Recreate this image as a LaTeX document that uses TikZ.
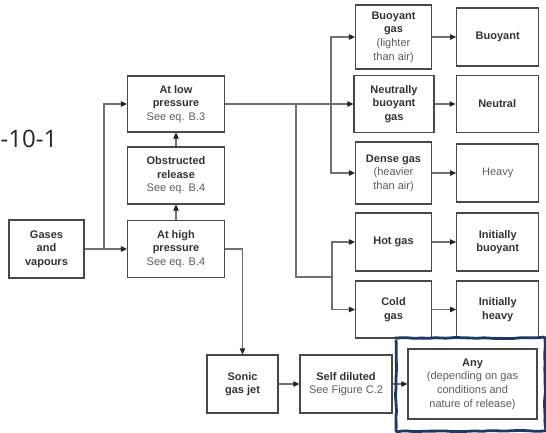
\documentclass[tikz,border=0pt]{standalone}
\usepackage{fontspec}
\setmainfont{Liberation Sans}
\newfontfamily\fignofont{Open Sans}
\usetikzlibrary{positioning, arrows.meta, decorations.pathmorphing}

\definecolor{boxline}{HTML}{484848}
\definecolor{wire}{HTML}{707070}
\definecolor{titletext}{HTML}{333333}
\definecolor{detailtext}{HTML}{5C5C5C}
\definecolor{markblue}{HTML}{1E3866}
\newcommand{\detail}[1]{{\mdseries\color{detailtext}#1}}

\begin{document}
\begin{tikzpicture}[
    x=1pt, y=-1pt,
    box/.style={
        draw=boxline,
        line width=1.2pt,
        inner sep=0pt,
        align=center,
        text=titletext,
        font=\fontsize{11}{13.6}\selectfont\bfseries
    },
    mid/.style={box, minimum width=76pt, minimum height=58pt},
    result/.style={box, minimum width=82pt, minimum height=58pt},
    arrow/.style={-{Triangle[length=6pt, width=5.5pt, color=black!85]}, line width=1.1pt, draw=wire},
    wireline/.style={line width=1.1pt, draw=wire},
    highlight/.style={
        draw=markblue,
        line width=2.8pt,
        rounded corners=2pt,
        decorate,
        decoration={random steps, segment length=6pt, amplitude=0.6pt}
    }
]
\useasboundingbox (0,0) rectangle (546,433);

% figure number at the left edge
\node[anchor=base west, inner sep=0pt, text=black!85,
      font=\fignofont\fontsize{24}{28}\selectfont] (figno) at (0.5,148) {-10-1};

% release conditions
\node[box, minimum width=75pt, minimum height=58pt] (gases) at (46.5,249) {Gases\\and\\vapours};
\node[box, minimum width=97pt, minimum height=57pt] (high) at (176,249) {At high\\pressure\\\detail{See eq. B.4}};
\node[box, minimum width=97pt, minimum height=57pt] (obst) at (176,175.5) {Obstructed\\release\\\detail{See eq. B.4}};
\node[box, minimum width=97pt, minimum height=56pt] (low) at (176,104) {At low\\pressure\\\detail{See eq. B.3}};
\node[box, minimum width=71pt, minimum height=58pt] (sonic) at (242.5,384) {Sonic\\gas jet};
\node[box, minimum width=92pt, minimum height=58pt] (self) at (346,384) {Self diluted\\\detail{See Figure C.2}};
\node[box, minimum width=129pt, minimum height=70pt] (any) at (472.5,384)
    {Any\\\detail{(depending on gas}\\\detail{conditions and}\\\detail{nature of release)}};

% gas types
\node[mid, minimum height=64pt] (buoyg) at (393.5,37) {Buoyant\\gas\\\detail{(lighter}\\\detail{than air)}};
\node[mid, minimum width=80pt, minimum height=57pt] (neutg) at (394,104) {Neutrally\\buoyant\\gas};
\node[mid, minimum height=62pt] (dense) at (393.5,173) {Dense gas\\\detail{(heavier}\\\detail{than air)}};
\node[mid] (hot) at (393.5,242) {Hot gas};
\node[mid, minimum height=57pt] (cold) at (393.5,309.5) {Cold\\gas};

% behaviour
\node[result, right=24pt of buoyg] (buoy) {Buoyant};
\node[result, minimum height=57pt, right=21pt of neutg] (neut) {Neutral};
\node[result, right=24pt of dense] (heavy) {\detail{Heavy}};
\node[result, right=24pt of hot] (initb) {Initially\\buoyant};
\node[result, minimum height=57pt, right=24pt of cold] (inith) {Initially\\heavy};

% junctions
\coordinate (jgas) at (104,249);
\coordinate (jlow) at (331,104);
\coordinate (jdown) at (296,104);
\coordinate (jtemp) at (332,277);

\draw[arrow] (gases) -- (high);
\draw[arrow] (jgas) |- (low);
\draw[arrow] (high) -- (obst);
\draw[arrow] (obst) -- (low);
\draw[arrow] (high) -| (sonic);
\draw[arrow] (sonic) -- (self);
\draw[arrow] (self) -- (any);

\draw[arrow] (low) -- (neutg);
\draw[arrow] (jlow) |- (buoyg);
\draw[arrow] (jlow) |- (dense);
\draw[wireline] (jdown) |- (jtemp);
\draw[arrow] (jtemp) |- (hot);
\draw[arrow] (jtemp) |- (cold);

\draw[arrow] (buoyg) -- (buoy);
\draw[arrow] (neutg) -- (neut);
\draw[arrow] (dense) -- (heavy);
\draw[arrow] (hot) -- (initb);
\draw[arrow] (cold) -- (inith);

% hand-drawn mark round the last box
\draw[highlight] (396,338) rectangle (545,431);
\end{tikzpicture}
\end{document}
